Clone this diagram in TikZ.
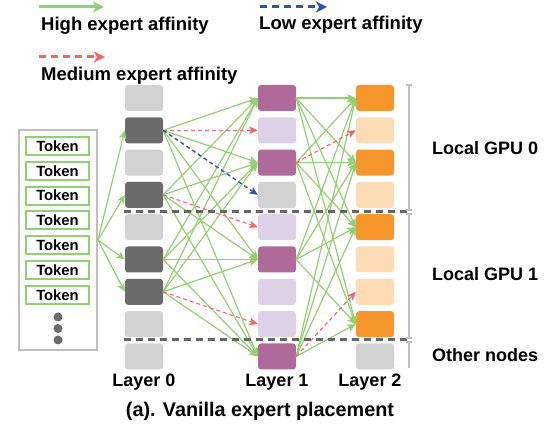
\documentclass[tikz,border=0pt]{standalone}
\usepackage{fontspec}
\setmainfont{Liberation Sans}
\usetikzlibrary{arrows.meta}
\definecolor{lgray}{HTML}{D2D2D2}
\definecolor{dgray}{HTML}{6B6B6B}
\definecolor{purp}{HTML}{B06A99}
\definecolor{lpurp}{HTML}{DDD1E5}
\definecolor{orng}{HTML}{F7962B}
\definecolor{lorng}{HTML}{FDDCB5}
\definecolor{hgreen}{HTML}{93D072}
\definecolor{mred}{HTML}{F5646B}
\definecolor{lblue}{HTML}{2F55A6}
\definecolor{sepgray}{HTML}{666666}
\definecolor{brgray}{HTML}{BFBFBF}
\begin{document}
\begin{tikzpicture}[x=1pt,y=-1pt,
  expert/.style={rectangle, rounded corners=3pt, minimum width=38pt, minimum height=26pt, inner sep=0pt},
  token/.style={rectangle, draw=hgreen, line width=2pt, fill=white, minimum width=63pt, minimum height=18pt, inner sep=0pt, font=\fontsize{14.8}{16}\selectfont\bfseries},
  dotn/.style={circle, fill=dgray, minimum size=9pt, inner sep=0pt},
  high/.style={draw=hgreen, line width=1.2pt, -{Stealth[length=8.5pt,width=7.5pt,inset=2pt]}},
  med/.style={draw=mred, line width=1.1pt, dash pattern=on 4pt off 3pt, -{Stealth[length=8.5pt,width=7.5pt,inset=2pt]}},
  low/.style={draw=lblue, line width=1.4pt, dash pattern=on 4pt off 3pt, -{Stealth[length=8.5pt,width=7.5pt,inset=2pt]}},
  sep/.style={draw=sepgray, line width=2.5pt, dash pattern=on 7pt off 5pt},
  brk/.style={draw=brgray, line width=2pt},
  lbl/.style={font=\fontsize{18}{20}\selectfont\bfseries, inner sep=0pt},
  leglbl/.style={font=\fontsize{18.5}{21}\selectfont\bfseries, inner sep=0pt, anchor=base west}
]
\useasboundingbox (0,0) rectangle (550,425);

% legend
\coordinate (g1) at (39,7); \coordinate (g2) at (104,7);
\draw[draw=hgreen, line width=3pt, -{Stealth[length=11pt,width=11pt,inset=3pt]}] (g1) -- (g2);
\node[leglbl] (lg) at (41,31) {High expert affinity};
\coordinate (b1) at (260,7); \coordinate (b2) at (327,7);
\draw[draw=lblue, line width=3pt, dash pattern=on 7pt off 5pt, -{Stealth[length=11pt,width=11pt,inset=3pt]}] (b1) -- (b2);
\node[leglbl] (lb) at (259,30) {Low expert affinity};
\coordinate (r1) at (39,57); \coordinate (r2) at (105,57);
\draw[draw=mred, line width=3pt, dash pattern=on 7pt off 5pt, -{Stealth[length=11pt,width=11pt,inset=3pt]}] (r1) -- (r2);
\node[leglbl] (lr) at (41,81) {Medium expert affinity};

% token box
\node[rectangle, draw=brgray, line width=2pt, minimum width=78pt, minimum height=220pt, inner sep=0pt] (tok) at (58,240) {};
\foreach \k in {0,...,6} \node[token] (t\k) at (57.5,{146+24.8*\k}) {Token};
\node[dotn] (d1) at (58,317) {};
\node[dotn] (d2) at (58,328.5) {};
\node[dotn] (d3) at (58,340) {};

% experts
\foreach \i/\c in {0/lgray,1/dgray,2/lgray,3/dgray,4/lgray,5/dgray,6/dgray,7/lgray,8/lgray}
  \node[expert, fill=\c] (a\i) at (144,{98+32.3*\i}) {};
\foreach \i/\c in {0/purp,1/lpurp,2/purp,3/lgray,4/lpurp,5/purp,6/lpurp,7/lpurp,8/purp}
  \node[expert, fill=\c] (b\i) at (277,{98+32.3*\i}) {};
\foreach \i/\c in {0/orng,1/lorng,2/orng,3/lorng,4/orng,5/lorng,6/lorng,7/orng,8/lgray}
  \node[expert, fill=\c] (c\i) at (375,{98+32.3*\i}) {};

% token arrows
\foreach \t in {1,3,5,6} \draw[high] (tok.east) -- (a\t.west);

% layer 0 -> layer 1
\foreach \s in {1,3,5,6} \foreach \t in {0,2,5,8} \draw[high] (a\s.east) -- (b\t.west);
\draw[med] (a1.east) -- (b1.west);
\draw[low] (a1.east) -- (b3.west);
\draw[med] (a3.east) -- (b4.west);
\draw[med] (a6.east) -- (b7.west);

% layer 1 -> layer 2
\foreach \s in {0,2,5,8} \foreach \t in {0,2,4,7} \draw[high] (b\s.east) -- (c\t.west);
\draw[med] (b2.east) -- (c1.west);
\draw[med] (b8.east) -- (c6.west);

% separators
\coordinate (s1a) at (124,211.5); \coordinate (s1b) at (408,211.5);
\coordinate (s2a) at (124,339.5); \coordinate (s2b) at (408,339.5);
\draw[sep] (s1a) -- (s1b);
\draw[sep] (s2a) -- (s2b);

% bracket
\coordinate (k1) at (409,85); \coordinate (k2) at (409,210);
\coordinate (k3) at (409,214); \coordinate (k4) at (409,338);
\coordinate (k5) at (409,342); \coordinate (k6) at (409,368);
\draw[brk] (k1) -- (k2); \draw[brk] (k3) -- (k4); \draw[brk] (k5) -- (k6);
\foreach \p in {k1,k2,k3,k4,k5} \draw[brk] ([xshift=-3pt]\p) -- ([xshift=3pt]\p);

% labels
\node[lbl, anchor=base west] (g0) at (432,155) {Local GPU 0};
\node[lbl, anchor=base west] (gg1) at (432,281) {Local GPU 1};
\node[lbl, anchor=base west] (on) at (432,362) {Other nodes};
\node[lbl, anchor=base] (l0) at (144,387) {Layer 0};
\node[lbl, anchor=base] (l1) at (277,387) {Layer 1};
\node[lbl, anchor=base] (l2) at (370,387) {Layer 2};
\node[font=\fontsize{19.8}{22}\selectfont\bfseries, inner sep=0pt, anchor=base] (cap) at (260,417) {(a). Vanilla expert placement};
\end{tikzpicture}
\end{document}
